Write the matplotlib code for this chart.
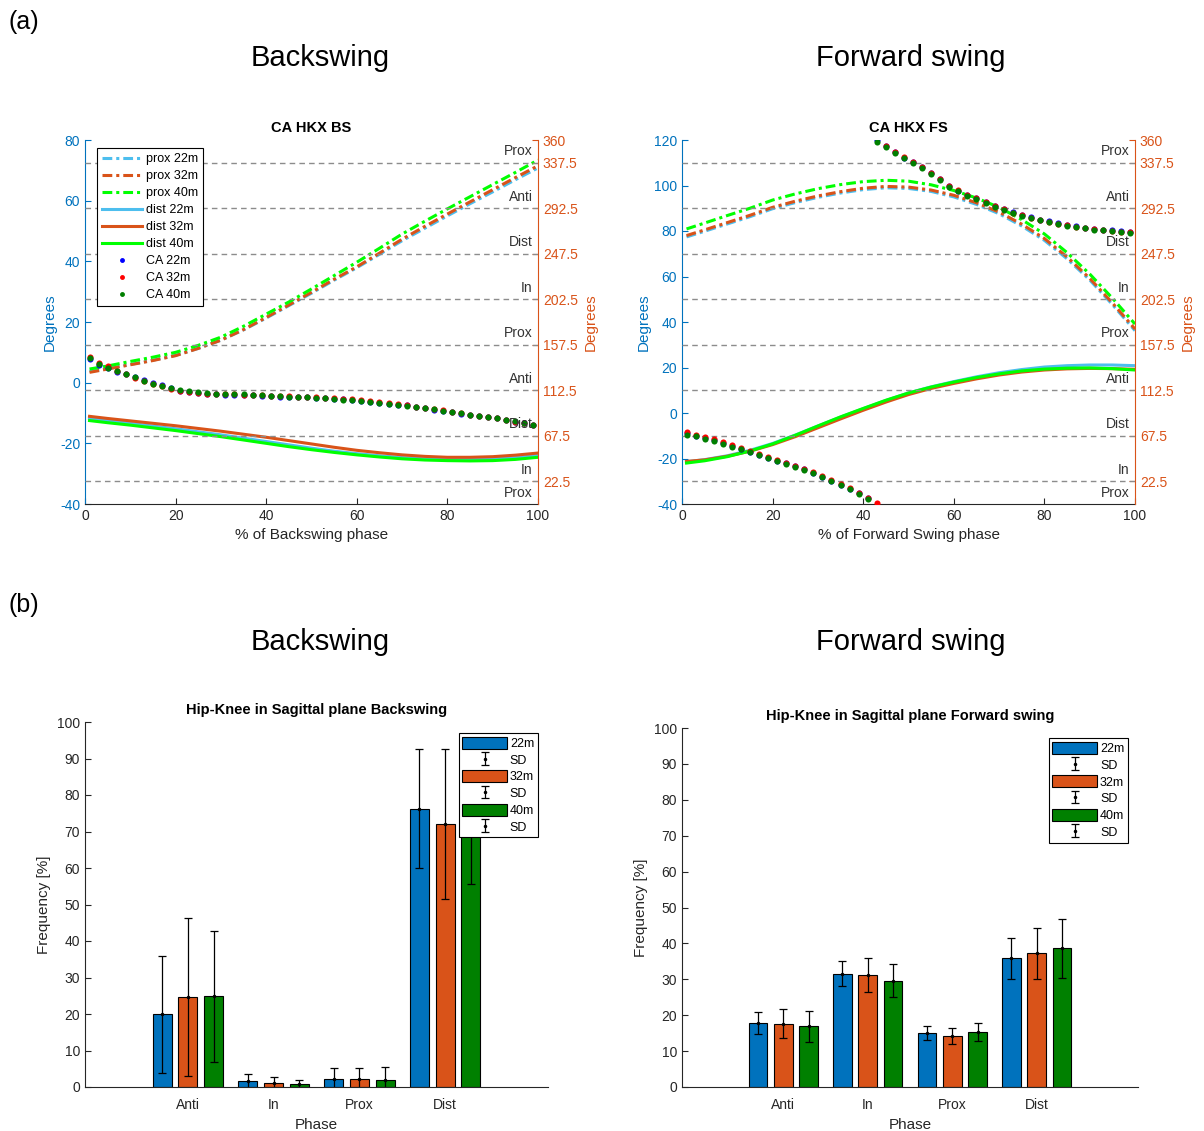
import matplotlib.pyplot as plt
import numpy as np

plt.rcParams['font.family'] = ['Liberation Sans', 'DejaVu Sans']
plt.rcParams['axes.unicode_minus'] = False

# ---- data: continuous relative phase / coupling angle curves ----
pct = [1, 5, 10, 15, 20, 25, 30, 35, 40, 45, 50, 55, 60, 65, 70, 75, 80, 85, 90, 95, 100]
dist_names = ['22m', '32m', '40m']

bs_prox_22 = [3.7, 4.6, 6.0, 7.4, 9.0, 11.3, 14.0, 17.4, 21.3, 25.4, 29.5, 33.8, 37.9, 42.3, 46.8, 50.9, 55.0, 59.0, 62.9, 66.9, 70.8]
bs_prox_32 = [3.4, 4.5, 5.9, 7.3, 8.9, 11.3, 14.0, 17.5, 21.5, 25.6, 29.8, 34.1, 38.2, 42.7, 47.3, 51.5, 55.6, 59.6, 63.6, 67.6, 71.5]
bs_prox_40 = [4.5, 5.5, 7.0, 8.4, 10.0, 12.3, 15.0, 18.6, 22.6, 26.6, 30.9, 35.3, 39.7, 44.3, 49.0, 53.2, 57.3, 61.3, 65.3, 69.3, 73.4]
bs_dist_22 = [-11.8, -12.5, -13.4, -14.3, -15.2, -16.2, -17.2, -18.3, -19.4, -20.5, -21.6, -22.6, -23.4, -24.1, -24.7, -25.1, -25.3, -25.3, -25.1, -24.7, -24.0]
bs_dist_32 = [-11.1, -11.8, -12.6, -13.4, -14.2, -15.1, -16.0, -17.0, -18.0, -19.1, -20.2, -21.3, -22.3, -23.1, -23.8, -24.3, -24.6, -24.6, -24.4, -23.9, -23.2]
bs_dist_40 = [-12.5, -13.2, -14.0, -14.9, -15.8, -16.8, -17.8, -18.9, -20.0, -21.1, -22.1, -23.0, -23.8, -24.5, -25.1, -25.5, -25.7, -25.8, -25.7, -25.3, -24.6]

fs_prox_22 = [77.4, 79.9, 83.1, 86.3, 89.8, 92.5, 94.8, 96.7, 98.2, 99.0, 98.7, 97.4, 95.0, 91.7, 87.6, 82.2, 75.9, 67.8, 58.5, 47.7, 36.2]
fs_prox_32 = [78.0, 80.5, 83.7, 86.9, 90.4, 93.1, 95.4, 97.3, 98.8, 99.6, 99.3, 98.0, 95.7, 92.4, 88.3, 83.0, 76.7, 68.6, 59.2, 48.4, 36.9]
fs_prox_40 = [80.9, 83.5, 86.8, 90.0, 93.6, 96.3, 98.6, 100.4, 101.7, 102.3, 101.9, 100.3, 97.8, 94.5, 90.4, 85.0, 78.7, 70.5, 61.1, 50.5, 39.1]
fs_dist_22 = [-21.4, -20.5, -18.8, -16.4, -13.4, -9.7, -5.7, -1.8, 1.9, 5.5, 8.8, 11.5, 13.8, 15.9, 17.7, 19.1, 20.2, 20.8, 21.1, 21.1, 20.8]
fs_dist_32 = [-21.3, -20.6, -19.0, -16.8, -13.9, -10.4, -6.5, -2.6, 1.2, 4.8, 8.1, 10.8, 13.0, 15.0, 16.7, 18.0, 18.9, 19.4, 19.6, 19.5, 19.2]
fs_dist_40 = [-22.0, -21.0, -19.2, -16.7, -13.6, -9.8, -5.7, -1.7, 2.0, 5.6, 8.8, 11.4, 13.6, 15.6, 17.2, 18.5, 19.3, 19.7, 19.8, 19.5, 18.9]

# coupling angle (deg, right axis) at every 2 % of the phase
ca_pct = list(range(1, 100, 2))
bs_ca_22 = [143.7, 137.4, 134.4, 130.8, 128.7, 125.7, 122.4, 119.4, 117.3, 114.6, 112.2, 110.7, 109.8, 109.2, 108.6, 108.0, 108.0, 107.7, 107.4, 107.1,
            106.5, 106.2, 106.2, 105.6, 105.6, 105.3, 104.7, 104.1, 103.5, 102.9, 102.0, 101.1, 100.2, 99.3, 98.4, 97.5, 96.3, 95.1, 93.3, 92.1,
            90.6, 89.4, 88.2, 87.0, 85.8, 84.6, 83.1, 81.3, 79.8, 78.0]
bs_ca_32 = [145.8, 139.5, 136.5, 131.4, 128.4, 125.1, 121.5, 118.5, 116.4, 114.0, 112.2, 110.7, 109.8, 109.2, 108.6, 108.3, 108.3, 108.0, 107.7, 107.4,
            107.1, 106.8, 106.5, 106.2, 105.9, 105.6, 105.3, 104.7, 104.1, 103.5, 102.6, 101.4, 100.5, 99.6, 98.7, 97.5, 96.3, 95.1, 93.9, 92.7,
            91.2, 90.0, 88.5, 87.3, 86.1, 84.6, 83.1, 81.3, 79.8, 77.7]
bs_ca_40 = [144.3, 138.9, 134.7, 131.1, 128.1, 125.4, 122.1, 119.1, 116.7, 114.3, 112.5, 111.3, 110.4, 109.8, 109.2, 108.9, 108.6, 108.3, 108.0, 107.4,
            107.1, 106.8, 106.2, 105.9, 105.6, 105.0, 104.4, 103.8, 103.2, 102.6, 101.7, 100.8, 99.9, 99.0, 98.1, 97.2, 96.0, 94.8, 93.6, 92.4,
            90.9, 89.7, 88.5, 87.3, 86.1, 84.9, 83.4, 81.6, 80.1, 78.3]
fs_ca_22 = [69.8, 67.5, 65.3, 63.0, 60.3, 57.2, 54.5, 51.8, 48.8, 45.9, 42.8, 40.1, 37.2, 34.2, 30.8, 27.0, 23.2, 19.1, 14.9, 10.4,
            5.6, 359.6, 353.6, 347.7, 342.6, 338.0, 333.0, 327.5, 321.2, 314.7, 309.9, 305.8, 302.2, 298.5, 294.8, 291.6, 288.5, 286.0, 283.5, 281.3,
            279.5, 277.7, 276.1, 274.5, 273.4, 272.3, 271.4, 270.5, 269.8, 269.2]
fs_ca_32 = [70.9, 68.6, 66.2, 64.1, 61.1, 58.1, 55.1, 52.2, 49.5, 46.4, 43.4, 40.7, 37.8, 34.7, 31.5, 27.9, 24.1, 20.0, 15.8, 11.3,
            6.3, 0.8, 354.2, 348.3, 343.1, 338.4, 333.3, 327.8, 321.5, 315.0, 310.1, 305.9, 302.2, 298.4, 294.5, 291.3, 288.2, 285.6, 283.1, 280.8,
            279.0, 277.2, 275.6, 274.0, 272.9, 271.8, 270.9, 270.0, 269.3, 268.7]
fs_ca_40 = [68.6, 67.1, 64.7, 62.6, 59.6, 56.7, 54.0, 51.3, 48.4, 45.5, 42.3, 39.6, 36.9, 33.8, 30.2, 26.6, 22.7, 18.5, 14.4, 9.9,
            5.0, 358.2, 352.8, 347.0, 341.8, 337.1, 332.1, 326.7, 320.4, 313.9, 309.2, 305.1, 301.5, 297.7, 293.9, 290.7, 287.6, 285.1, 282.6, 280.4,
            278.6, 276.8, 275.2, 273.6, 272.5, 271.4, 270.5, 269.6, 268.9, 268.2]

# coordination pattern bins (right axis)
bin_edges = [22.5, 67.5, 112.5, 157.5, 202.5, 247.5, 292.5, 337.5]
bin_label_pos = [11.25, 33.75, 78.75, 123.75, 168.75, 213.75, 258.75, 303.75, 348.75]
bin_label_txt = ['Prox', 'In', 'Dist', 'Anti', 'Prox', 'In', 'Dist', 'Anti', 'Prox']
right_ticks = [22.5, 67.5, 112.5, 157.5, 202.5, 247.5, 292.5, 337.5, 360]
right_ticklabels = ['22.5', '67.5', '112.5', '157.5', '202.5', '247.5', '292.5', '337.5', '360']

# ---- data: frequency of coordination patterns ----
phases = ['Anti', 'In', 'Prox', 'Dist']
bs_mean = [[19.9, 1.7, 2.3, 76.3], [24.6, 1.2, 2.3, 72.1], [24.8, 0.7, 2.0, 74.0]]
bs_sd = [[16.0, 1.9, 3.0, 16.3], [21.6, 1.5, 3.0, 20.6], [18.0, 1.3, 3.5, 18.4]]
fs_mean = [[17.9, 31.6, 15.1, 35.8], [17.6, 31.2, 14.3, 37.2], [16.9, 29.6, 15.3, 38.6]]
fs_sd = [[3.0, 3.6, 2.0, 5.7], [4.0, 4.8, 2.2, 7.0], [4.4, 4.6, 2.4, 8.2]]

line_colors = ['#4DBEEE', '#D95319', '#00FF00']
dot_colors = ['#0000FF', '#FF0000', '#007F00']
bar_colors = ['#0072BD', '#D95319', '#008000']
blue = '#0072BD'
orange = '#D95319'
dark = '#262626'

W, H = 1204, 1131
fig = plt.figure(figsize=(W / 100, H / 100), dpi=100)


def px_rect(left, top, right, bottom):
    return [left / W, 1 - bottom / H, (right - left) / W, (bottom - top) / H]


def ca_panel(rect, title, xlabel, ylim, prox, dist, ca, legend=False):
    ax = fig.add_axes(rect)
    handles = []
    for vals, c, n in zip(prox, line_colors, dist_names):
        h, = ax.plot(pct, vals, color=c, lw=2.2, dashes=(3.2, 1.3, 1, 1.3), label='prox ' + n)
        handles.append(h)
    for vals, c, n in zip(dist, line_colors, dist_names):
        h, = ax.plot(pct, vals, '-', color=c, lw=2.2, label='dist ' + n)
        handles.append(h)
    ax.set_xlim(0, 100)
    ax.set_ylim(ylim)
    ax.set_yticks(np.arange(ylim[0], ylim[1] + 1, 20))
    ax.set_xticks(range(0, 101, 20))
    ax.tick_params(axis='y', colors=blue, direction='in', length=4, labelsize=10)
    ax.tick_params(axis='x', colors=dark, direction='in', length=4, labelsize=10)
    ax.spines['top'].set_visible(False)
    ax.spines['right'].set_visible(False)
    ax.spines['left'].set_color(blue)
    ax.spines['bottom'].set_color(dark)
    ax.set_ylabel('Degrees', color=blue, fontsize=11, labelpad=2)
    ax.set_xlabel(xlabel, color=dark, fontsize=11, labelpad=4)
    ax.set_title(title, fontsize=10.5, fontweight='bold', pad=6)

    ax2 = ax.twinx()
    ax2.set_ylim(0, 360)
    for b in bin_edges:
        ax2.axhline(b, color='0.55', lw=1, dashes=(4, 3))
    for p, t in zip(bin_label_pos, bin_label_txt):
        ax2.text(98.8, p, t, ha='right', va='center', color='#333333', fontsize=10)
    for vals, c, n in zip(ca, dot_colors, dist_names):
        h, = ax2.plot(ca_pct, vals, 'o', ms=4.4, color=c, mec='none', label='CA ' + n)
        handles.append(h)
    ax2.set_yticks(right_ticks)
    ax2.set_yticklabels(right_ticklabels)
    ax2.tick_params(axis='y', colors=orange, direction='in', length=4, labelsize=10)
    for s in ['top', 'left', 'bottom']:
        ax2.spines[s].set_visible(False)
    ax2.spines['right'].set_color(orange)
    ax2.set_ylabel('Degrees', color=orange, fontsize=11, labelpad=4)
    if legend:
        leg = ax2.legend(handles=handles, loc='upper left', bbox_to_anchor=(0.026, 0.978),
                         borderaxespad=0, fontsize=9, handlelength=3.2, labelspacing=0.4,
                         fancybox=False, framealpha=1, edgecolor='k', handletextpad=0.3,
                         borderpad=0.4, markerscale=0.8)
        leg.get_frame().set_linewidth(0.8)
    return ax


def bar_panel(rect, title, means, sds, anchor):
    ax = fig.add_axes(rect)
    x = np.arange(1, 5)
    offsets = [-0.3, 0, 0.3]
    handles = []
    for i in range(3):
        b = ax.bar(x + offsets[i], means[i], width=0.22, color=bar_colors[i],
                   edgecolor='k', linewidth=0.8, label=dist_names[i])
        e = ax.errorbar(x + offsets[i], means[i], yerr=sds[i], fmt='.', color='k',
                        ms=3, capsize=3, elinewidth=0.9, capthick=0.9, label='SD')
        handles += [b, e]
    ax.set_xlim(-0.2, 5.2)
    ax.set_ylim(0, 100)
    ax.set_yticks(range(0, 101, 10))
    ax.set_xticks(x)
    ax.set_xticklabels(phases)
    ax.tick_params(axis='y', colors=dark, direction='in', length=4, labelsize=10)
    ax.tick_params(axis='x', colors=dark, length=0, labelsize=10, pad=8)
    ax.spines['top'].set_visible(False)
    ax.spines['right'].set_visible(False)
    ax.spines['left'].set_color(dark)
    ax.spines['bottom'].set_color(dark)
    ax.set_ylabel('Frequency [%]', color=dark, fontsize=11)
    ax.set_xlabel('Phase', color=dark, fontsize=11, labelpad=4)
    ax.set_title(title, fontsize=10.5, fontweight='bold', pad=6)
    leg = ax.legend(handles=handles, loc='upper right', bbox_to_anchor=anchor,
                    borderaxespad=0, fontsize=9, handlelength=3.6, handleheight=1.1,
                    labelspacing=0.28, fancybox=False, framealpha=1, edgecolor='k',
                    handletextpad=0.2, borderpad=0.3)
    leg.get_frame().set_linewidth(0.8)
    return ax


ca_panel(px_rect(85, 140, 538, 504), 'CA HKX BS', '% of Backswing phase', (-40, 80),
         [bs_prox_22, bs_prox_32, bs_prox_40], [bs_dist_22, bs_dist_32, bs_dist_40],
         [bs_ca_22, bs_ca_32, bs_ca_40], legend=True)
ca_panel(px_rect(682, 140, 1135, 504), 'CA HKX FS', '% of Forward Swing phase', (-40, 120),
         [fs_prox_22, fs_prox_32, fs_prox_40], [fs_dist_22, fs_dist_32, fs_dist_40],
         [fs_ca_22, fs_ca_32, fs_ca_40])

bar_panel(px_rect(85, 722, 548, 1087), 'Hip-Knee in Sagittal plane Backswing', bs_mean, bs_sd, (0.978, 0.97))
bar_panel(px_rect(682, 728, 1138, 1087), 'Hip-Knee in Sagittal plane Forward swing', fs_mean, fs_sd, (0.978, 0.972))

# panel letters and headings
fig.text(8 / W, 1 - 22 / H, '(a)', fontsize=18, va='center', ha='left')
fig.text(8 / W, 1 - 605 / H, '(b)', fontsize=18, va='center', ha='left')
for y in [58, 642]:
    fig.text(320 / W, 1 - y / H, 'Backswing', fontsize=21, va='center', ha='center')
    fig.text(911 / W, 1 - y / H, 'Forward swing', fontsize=21, va='center', ha='center')

fig.savefig('out.png', dpi=100)
